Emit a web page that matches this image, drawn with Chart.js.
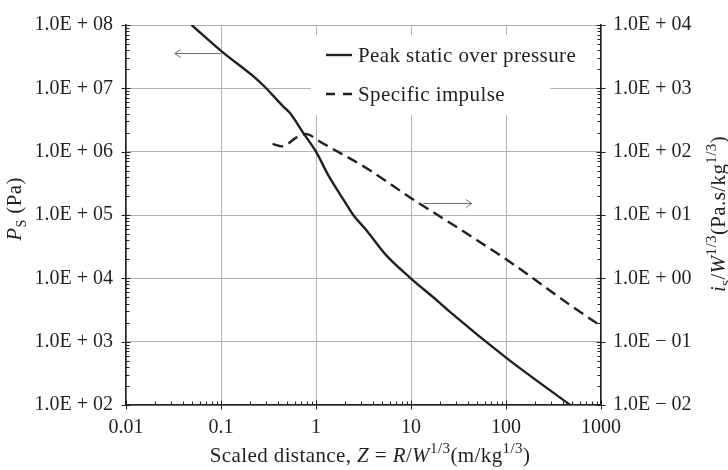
<!DOCTYPE html>
<html>
<head>
<meta charset="utf-8">
<script src="https://cdn.jsdelivr.net/npm/chart.js"></script>
<style>
  body { margin: 0; background: #fff; }
  canvas { display: block; }
</style>
</head>
<body>
<canvas id="blastChart" width="728" height="470"></canvas>
<script>
// peak static overpressure (left axis)
const distanceP = [0.049, 0.1, 0.237, 0.29, 0.45, 0.53, 0.73, 1.0, 1.34, 1.51, 2.02, 2.47, 3.41, 5.5, 9.8, 19.4, 25.7, 100, 473];
const pressure = [1.0e8, 3.9e7, 1.4e7, 1.05e7, 5.2e6, 4.1e6, 2.0e6, 1.0e6, 4.3e5, 3.2e5, 1.6e5, 1.0e5, 5.7e4, 2.3e4, 1.02e4, 4.3e3, 2.95e3, 5.6e2, 1.0e2];

// specific impulse (right axis)
const distanceI = [0.349, 0.438, 0.625, 0.78, 0.88, 1.0, 3.41, 9.85, 30, 98.6, 906, 1000];
const impulse = [133, 121, 168, 190, 180, 158, 54.7, 18.8, 6.5, 2.03, 0.196, 0.18];

const xTicks = [0.01, 0.1, 1, 10, 100, 1000];
const leftTicks = [1e2, 1e3, 1e4, 1e5, 1e6, 1e7, 1e8];
const rightTicks = [1e-2, 1e-1, 1e0, 1e1, 1e2, 1e3, 1e4];

// arrow annotations, in data units
const leftArrow = { from: 0.1, to: 0.0326, y: 3.65e7 };
const rightArrow = { from: 13.5, to: 43.6, y: 15.2 };

const ink = "#231f20";
const serif = '"Liberation Serif", "DejaVu Serif", serif';

function sciLabel(v) {
  const e = Math.round(Math.log10(v));
  const sign = e < 0 ? "\u2212" : "+";
  return "1.0E " + sign + " " + String(Math.abs(e)).padStart(2, "0");
}

function isDecade(v) {
  const l = Math.log10(v);
  return Math.abs(l - Math.round(l)) < 1e-9;
}

function minorValues(min, max) {
  const out = [];
  for (let d = Math.floor(Math.log10(min)); d < Math.log10(max); d++) {
    for (let k = 2; k <= 9; k++) {
      const v = k * Math.pow(10, d);
      if (v > min && v < max) out.push(v);
    }
  }
  return out;
}

// text runs with italic / sub / sup pieces
function setFont(ctx, p) {
  ctx.font = (p.italic ? "italic " : "") + (p.size || 21) + "px " + serif;
}
function richWidth(ctx, parts) {
  let w = 0;
  parts.forEach(p => { setFont(ctx, p); w += ctx.measureText(p.t).width; });
  return w;
}
function drawRich(ctx, parts, x, y) {
  parts.forEach(p => {
    setFont(ctx, p);
    ctx.fillText(p.t, x, y + (p.dy || 0));
    x += ctx.measureText(p.t).width;
  });
}

const xTitle = [
  { t: "Scaled distance, " }, { t: "Z", italic: true }, { t: " = " },
  { t: "R", italic: true }, { t: "/" }, { t: "W", italic: true },
  { t: "1/3", size: 15, dy: -9 }, { t: "(m/kg" }, { t: "1/3", size: 15, dy: -9 }, { t: ")" }
];
const leftTitle = [
  { t: "P", italic: true }, { t: "S", size: 14, dy: 5 }, { t: " (Pa)" }
];
const rightTitle = [
  { t: "i", italic: true }, { t: "s", size: 15, dy: 5 }, { t: "/" }, { t: "W", italic: true },
  { t: "1/3", size: 15, dy: -9 }, { t: "(Pa.s/kg" }, { t: "1/3", size: 15, dy: -9 }, { t: ")" }
];

const decorations = {
  id: "decorations",
  afterDraw(chart) {
    const ctx = chart.ctx;
    const a = chart.chartArea;
    const sx = chart.scales.x, sy = chart.scales.y, sy1 = chart.scales.y1;
    ctx.save();

    // tick marks: majors cross the axis, minors point inward
    ctx.strokeStyle = ink;
    ctx.lineWidth = 1;
    ctx.beginPath();
    xTicks.forEach(v => {
      const px = Math.round(sx.getPixelForValue(v)) + 0.5;
      ctx.moveTo(px, a.bottom - 4.5); ctx.lineTo(px, a.bottom + 4.5);
    });
    minorValues(0.01, 1000).forEach(v => {
      const px = Math.round(sx.getPixelForValue(v)) + 0.5;
      ctx.moveTo(px, a.bottom); ctx.lineTo(px, a.bottom - 3.5);
    });
    leftTicks.forEach(v => {
      const py = Math.round(sy.getPixelForValue(v)) + 0.5;
      ctx.moveTo(a.left - 4.5, py); ctx.lineTo(a.left + 4.5, py);
    });
    minorValues(1e2, 1e8).forEach(v => {
      const py = Math.round(sy.getPixelForValue(v)) + 0.5;
      ctx.moveTo(a.left, py); ctx.lineTo(a.left + 3.5, py);
    });
    rightTicks.forEach(v => {
      const py = Math.round(sy1.getPixelForValue(v)) + 0.5;
      ctx.moveTo(a.right - 4.5, py); ctx.lineTo(a.right + 4.5, py);
    });
    minorValues(1e-2, 1e4).forEach(v => {
      const py = Math.round(sy1.getPixelForValue(v)) + 0.5;
      ctx.moveTo(a.right, py); ctx.lineTo(a.right - 3.5, py);
    });
    ctx.stroke();

    // arrows
    ctx.strokeStyle = "#6d6d6d";
    ctx.lineWidth = 1;
    function arrow(x0, x1, y) {
      const dir = Math.sign(x1 - x0);
      ctx.beginPath();
      ctx.moveTo(x0, y); ctx.lineTo(x1, y);
      ctx.moveTo(x1 - dir * 6, y - 4); ctx.lineTo(x1, y); ctx.lineTo(x1 - dir * 6, y + 4);
      ctx.stroke();
    }
    const ly = Math.round(sy.getPixelForValue(leftArrow.y)) + 0.5;
    arrow(sx.getPixelForValue(leftArrow.from), sx.getPixelForValue(leftArrow.to), ly);
    const ry = Math.round(sy1.getPixelForValue(rightArrow.y)) + 0.5;
    arrow(sx.getPixelForValue(rightArrow.from), sx.getPixelForValue(rightArrow.to), ry);

    // legend box
    const lx = a.left + 185, ltop = a.top + 10;
    ctx.fillStyle = "#fff";
    ctx.fillRect(lx, ltop, 239, 80);
    ctx.strokeStyle = ink;
    ctx.lineWidth = 2.4;
    ctx.beginPath();
    ctx.moveTo(lx + 15, ltop + 20); ctx.lineTo(lx + 41, ltop + 20);
    ctx.stroke();
    ctx.setLineDash([9, 8]);
    ctx.beginPath();
    ctx.moveTo(lx + 15, ltop + 59); ctx.lineTo(lx + 41, ltop + 59);
    ctx.stroke();
    ctx.setLineDash([]);
    ctx.fillStyle = ink;
    ctx.textBaseline = "alphabetic";
    ctx.letterSpacing = "0.4px";
    ctx.font = "21px " + serif;
    ctx.fillText("Peak static over pressure", lx + 47, ltop + 27);
    ctx.fillText("Specific impulse", lx + 47, ltop + 66);

    // axis titles
    const xw = richWidth(ctx, xTitle);
    drawRich(ctx, xTitle, 370 - xw / 2, 461.5);

    ctx.save();
    ctx.translate(21, 209);
    ctx.rotate(-Math.PI / 2);
    drawRich(ctx, leftTitle, -richWidth(ctx, leftTitle) / 2, 0);
    ctx.restore();

    ctx.save();
    ctx.translate(725, 214);
    ctx.rotate(-Math.PI / 2);
    drawRich(ctx, rightTitle, -richWidth(ctx, rightTitle) / 2, 0);
    ctx.restore();

    ctx.restore();
  }
};

function logAxis(min, max, ticks, position, width, withGrid, pad) {
  return {
    type: "logarithmic",
    position: position,
    min: min,
    max: max,
    afterBuildTicks: scale => { scale.ticks = ticks.map(v => ({ value: v })); },
    afterFit: scale => { scale.width = width; },
    grid: {
      drawTicks: false,
      color: ctx => (withGrid && ctx.tick && isDecade(ctx.tick.value)) ? "#b3b3b3" : "rgba(0,0,0,0)",
      lineWidth: 1
    },
    border: { display: true, color: ink, width: 1.5 },
    ticks: {
      autoSkip: false,
      maxRotation: 0,
      padding: pad,
      color: ink,
      font: { family: serif, size: 20 },
      callback: v => sciLabel(v)
    }
  };
}

new Chart(document.getElementById("blastChart").getContext("2d"), {
  type: "line",
  data: {
    datasets: [
      {
        label: "Peak static over pressure",
        data: distanceP.map((d, i) => ({ x: d, y: pressure[i] })),
        yAxisID: "y",
        borderColor: ink,
        borderWidth: 2.4,
        pointRadius: 0,
        cubicInterpolationMode: "monotone",
        fill: false
      },
      {
        label: "Specific impulse",
        data: distanceI.map((d, i) => ({ x: d, y: impulse[i] })),
        yAxisID: "y1",
        borderColor: ink,
        borderWidth: 2.4,
        borderDash: [11, 6],
        pointRadius: 0,
        cubicInterpolationMode: "monotone",
        fill: false
      }
    ]
  },
  options: {
    responsive: false,
    animation: false,
    layout: { padding: { top: 17, bottom: 0, left: 0, right: 0 } },
    plugins: {
      legend: { display: false },
      tooltip: { enabled: false }
    },
    scales: {
      x: {
        type: "logarithmic",
        min: 0.01,
        max: 1000,
        afterBuildTicks: scale => { scale.ticks = xTicks.map(v => ({ value: v })); },
        afterFit: scale => { scale.height = 65; },
        grid: { drawTicks: false, color: "#b3b3b3", lineWidth: 1 },
        border: { display: true, color: ink, width: 1.5 },
        ticks: {
          autoSkip: false,
          maxRotation: 0,
          padding: 11,
          color: ink,
          font: { family: serif, size: 20 },
          callback: v => String(v)
        }
      },
      y: logAxis(1e2, 1e8, leftTicks, "left", 126, true, 13),
      y1: logAxis(1e-2, 1e4, rightTicks, "right", 127, false, 12)
    }
  },
  plugins: [decorations]
});
</script>
</body>
</html>
